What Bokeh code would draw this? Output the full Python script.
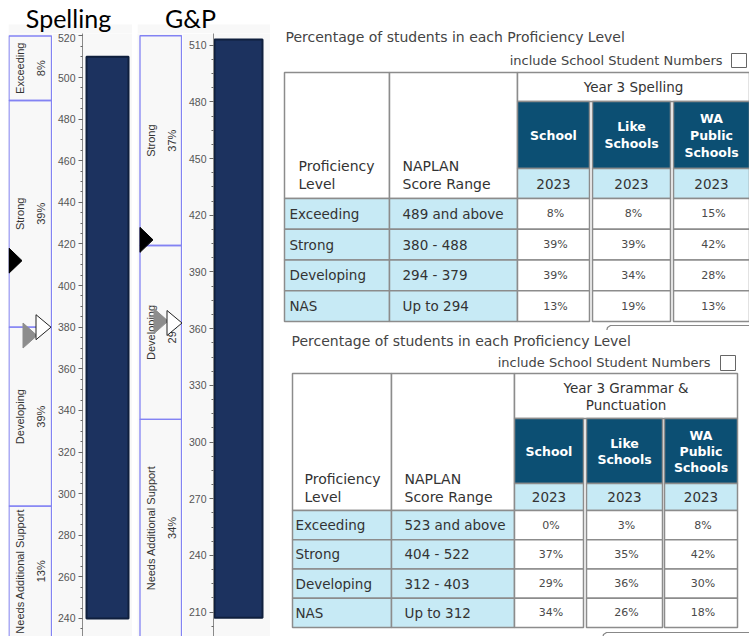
import math
from bokeh.plotting import figure
from bokeh.layouts import row, column
from bokeh.models import Range1d, SingleIntervalTicker, Spacer
from bokeh.core.properties import value
from bokeh.embed import file_html
from bokeh.resources import INLINE

# ---------------- data ----------------
LEVELS = ["Exceeding", "Strong", "Developing", "NAS"]
BAND_NAMES = ["Exceeding", "Strong", "Developing", "Needs Additional Support"]
COLUMNS = ["School", "Like\nSchools", "WA\nPublic\nSchools"]
YEAR = "2023"
TABLE_TITLE = "Percentage of students in each Proficiency Level"
CHECK_LABEL = "include School Student Numbers"
HEAD_LEFT = ["Proficiency\nLevel", "NAPLAN\nScore Range"]

SP_TITLE = "Spelling"
SP_SUBJECT = "Year 3 Spelling"
SP_RANGES = ["489 and above", "380 - 488", "294 - 379", "Up to 294"]
SP_LOWER = [489, 380, 294]          # lower bound of Exceeding, Strong, Developing
SP_SCALE = [220, 520]               # chart scale min / max
SP_SCHOOL = [8, 39, 39, 13]
SP_LIKE = [8, 39, 34, 19]
SP_WA = [15, 42, 28, 13]
SP_MEANS = [412, 376, 380]          # School, Like Schools, WA Public Schools
SP_BAR = [240, 510]
SP_VIEW = [231.3, 521.2]

GP_TITLE = "G&P"
GP_SUBJECT = "Year 3 Grammar &\nPunctuation"
GP_RANGES = ["523 and above", "404 - 522", "312 - 403", "Up to 312"]
GP_LOWER = [523, 404, 312]
GP_SCALE = [180, 515]
GP_SCHOOL = [0, 37, 29, 34]
GP_LIKE = [3, 35, 36, 26]
GP_WA = [8, 42, 30, 18]
GP_MEANS = [407, 364, 363]
GP_BAR = [207, 513]
GP_VIEW = [197.1, 516.2]

# ---------------- style ----------------
PANEL = "#f8f8f8"
BAND_LINE = "#8383f3"
NAVY = "#1c325f"
NAVY_EDGE = "#0f1f3d"
DARK = "#0c4f73"
LIGHT = "#c7eaf5"
BORDER = "#8c8c8c"
TXT = "#333333"
FONT = "DejaVu Sans"
CH = 603   # chart body height
TH = 33    # chart title strip height


def base_fig(w, h, xr, yr, bg="white"):
    p = figure(width=w, height=h, x_range=xr, y_range=yr, output_backend="svg",
               toolbar_location=None, x_axis_location=None, y_axis_location=None,
               min_border=0, outline_line_color=None,
               background_fill_color=bg, border_fill_color=bg)
    p.xgrid.grid_line_color = None
    p.ygrid.grid_line_color = None
    return p


def make_chart(title, title_cx, panel_x0, band_w, bar_w, axis_gap, box, view,
               scale, lower, pcts, means, bar, bar_cx, bar_px, interval):
    yr = Range1d(view[0], view[1])
    ppu = CH / (view[1] - view[0])
    total_w = band_w + bar_w

    # title strip
    tf = base_fig(total_w, TH, Range1d(panel_x0, panel_x0 + total_w), Range1d(TH, 0))
    tf.quad(left=[panel_x0], right=[panel_x0 + total_w], top=[24], bottom=[TH],
            fill_color=PANEL, line_color=None)
    tf.text(x=[title_cx], y=[17], text=[title], text_align="center",
            text_baseline="middle", text_font=value("Lato"),
            text_font_size="25px", text_color="black")

    # band box figure
    bf = base_fig(band_w, CH, Range1d(panel_x0, panel_x0 + band_w), yr, PANEL)
    bl, br = box
    bands = []
    hi = scale[1]
    for name, pct, lo in zip(BAND_NAMES, pcts, lower + [scale[0]]):
        lo = max(lo, scale[0])
        if lo < hi:
            bands.append((name, pct, lo, hi))
        hi = min(hi, lo)
    bf.quad(left=[bl] * len(bands), right=[br] * len(bands),
            top=[b[3] for b in bands], bottom=[b[2] for b in bands],
            fill_color=None, line_color=BAND_LINE, line_width=1.3)
    mids = [(min(b[3], view[1]) + max(b[2], view[0])) / 2 for b in bands]
    bf.text(x=[bl + 10.5] * len(bands), y=mids, text=[b[0] for b in bands],
            angle=math.pi / 2, text_align="center", text_baseline="middle",
            text_font=value("Liberation Sans"), text_font_size="11px", text_color=TXT)
    bf.text(x=[bl + 32] * len(bands), y=mids, text=[f"{b[1]}%" for b in bands],
            angle=math.pi / 2, text_align="center", text_baseline="middle",
            text_font=value("Liberation Sans"), text_font_size="11px", text_color=TXT)
    # mean markers (school, like schools, WA public)
    offs = [(0, 13), (14, 28), (27, 42)]
    fills = ["black", "#8d8d8d", "white"]
    lines = ["black", "#8d8d8d", "#222222"]
    hh = 12.5 / ppu
    for (a, b), v, fc, lc in zip(offs, means, fills, lines):
        bf.patch(x=[bl + a, bl + a, bl + b], y=[v + hh, v - hh, v],
                 fill_color=fc, line_color=lc, line_width=1)

    # bar + axis figure
    pf = figure(width=bar_w, height=CH, x_range=Range1d(0, bar_w - axis_gap), y_range=yr,
                output_backend="svg", toolbar_location=None,
                x_axis_location=None, y_axis_location="left",
                min_border=0, min_border_left=axis_gap, outline_line_color=None,
                background_fill_color=PANEL, border_fill_color=PANEL)
    pf.xgrid.grid_line_color = None
    pf.ygrid.grid_line_color = None
    pf.vbar(x=[bar_cx], width=bar_px, bottom=[bar[0]], top=[bar[1]],
            fill_color=NAVY, line_color=NAVY_EDGE, line_width=2)
    ax = pf.yaxis[0]
    ax.ticker = SingleIntervalTicker(interval=interval, num_minor_ticks=4)
    ax.axis_line_color = "#8a8a8a"
    ax.major_tick_line_color = "#666666"
    ax.minor_tick_line_color = "#666666"
    ax.major_tick_in = 0
    ax.major_tick_out = 4
    ax.minor_tick_in = 0
    ax.minor_tick_out = 2
    ax.major_label_standoff = 3
    ax.major_label_text_font = "Liberation Sans"
    ax.major_label_text_font_size = "10.5px"
    ax.major_label_text_color = "#555555"

    return column(tf, row(bf, pf))


def ctext(p, xs, ys, texts, size, color=TXT, align="center", style="normal"):
    p.text(x=xs, y=ys, text=texts, text_align=align, text_baseline="middle",
           text_font=value(FONT), text_font_size=size, text_color=color,
           text_font_style=style)


def multiline(p, cx, cy, label, lh, size, color, style="normal"):
    parts = label.split("\n")
    n = len(parts)
    ys = [cy + (i - (n - 1) / 2) * lh for i in range(n)]
    ctext(p, [cx] * n, ys, parts, size, color, style=style)


def make_table(g, subject, ranges, school, like, wa):
    fy0, fy1 = g["fig_y"]
    p = base_fig(474, fy1 - fy0, Range1d(275, 749), Range1d(fy1, fy0))
    ctext(p, [g["title"][0]], [g["title"][1]], [TABLE_TITLE], "14px", "#444444", align="left")
    ctext(p, [g["inc"][0]], [g["inc"][1]], [CHECK_LABEL], "13px", "#444444", align="right")
    bx = g["box"]
    p.quad(left=[bx[0]], right=[bx[1]], top=[bx[2]], bottom=[bx[3]],
           fill_color="white", line_color="#666666", line_width=1)

    L = g["left"]
    dcols = g["dcols"]
    top, dark, yrow, data, bottom = g["top"], g["dark"], g["year"], g["data"], g["bottom"]
    n = len(LEVELS)
    rh = (bottom - data) / n
    lefts, rights, tops, bots, fills = [], [], [], [], []

    def cell(l, r, t, b, f):
        lefts.append(l); rights.append(r); tops.append(t); bots.append(b); fills.append(f)

    cell(L[0], L[1], top, data, "white")
    cell(L[1], L[2], top, data, "white")
    cell(dcols[0][0], dcols[-1][1], top, dark, "white")
    for (l, r) in dcols:
        cell(l, r, dark, yrow, DARK)
        cell(l, r, yrow, data, LIGHT)
    for i in range(n):
        t, b = data + i * rh, data + (i + 1) * rh
        cell(L[0], L[1], t, b, LIGHT)
        cell(L[1], L[2], t, b, LIGHT)
        for (l, r) in dcols:
            cell(l, r, t, b, "white")
    p.quad(left=lefts, right=rights, top=tops, bottom=bots, fill_color=fills,
           line_color=BORDER, line_width=1.5)

    # headers
    multiline(p, (dcols[0][0] + dcols[-1][1]) / 2, (top + dark) / 2, subject, 17, "13.5px", TXT)
    for (l, r), lab in zip(dcols, COLUMNS):
        multiline(p, (l + r) / 2, (dark + yrow) / 2, lab, g["lh"], "12.5px", "white", "bold")
        ctext(p, [(l + r) / 2], [(yrow + data) / 2], [YEAR], "13.5px", TXT)
    ycen = (yrow + data) / 2
    for x, lab in zip([g["prof_x"], g["rng_x"]], HEAD_LEFT):
        parts = lab.split("\n")
        ctext(p, [x, x], [ycen - 18, ycen], parts, "14px", TXT, align="left")

    # body
    ys = [data + (i + 0.5) * rh for i in range(n)]
    ctext(p, [g["lvl_x"]] * n, ys, LEVELS, "13.5px", TXT, align="left")
    ctext(p, [g["rng_x"]] * n, ys, ranges, "13.5px", TXT, align="left")
    for (l, r), vals in zip(dcols, [school, like, wa]):
        ctext(p, [(l + r) / 2 + 2] * n, ys, [f"{v}%" for v in vals], "11px", "#4a4a4a")

    dd = g["dropdown"]
    p.line(x=[dd[0], dd[0] + 1, dd[0] + 4, 749], y=[dd[1] + 6, dd[1] + 2, dd[1], dd[1]],
           line_color="#888888", line_width=1.2)
    return p


T1 = dict(fig_y=(0, 330), title=(285, 36), inc=(722, 60), box=(731, 746, 53, 67),
          left=[284, 389, 517], dcols=[(517, 589), (592, 670), (673, 749)],
          top=72, dark=101, year=168, data=198, bottom=321, lh=17,
          prof_x=298, rng_x=402, lvl_x=289, dropdown=(606, 325))
T2 = dict(fig_y=(330, 636), title=(291, 340), inc=(710, 362), box=(720, 735, 355, 370),
          left=[292, 391, 514], dcols=[(514, 583), (586, 662), (664, 737)],
          top=373, dark=418, year=483, data=510, bottom=627, lh=16,
          prof_x=304, rng_x=404, lvl_x=295, dropdown=(602, 632))

sp = make_chart(SP_TITLE, 68, 8, 44, 80, 30, (8.5, 51), SP_VIEW, SP_SCALE, SP_LOWER,
                SP_SCHOOL, SP_MEANS, SP_BAR, 25, 42, 20)
gp = make_chart(GP_TITLE, 190, 137, 45, 88, 31, (139.5, 181), GP_VIEW, GP_SCALE, GP_LOWER,
                GP_SCHOOL, GP_MEANS, GP_BAR, 25, 48, 30)
t1 = make_table(T1, SP_SUBJECT, SP_RANGES, SP_SCHOOL, SP_LIKE, SP_WA)
t2 = make_table(T2, GP_SUBJECT, GP_RANGES, GP_SCHOOL, GP_LIKE, GP_WA)

layout = row(Spacer(width=8, height=636), sp, Spacer(width=5, height=636), gp,
             Spacer(width=5, height=636), column(t1, t2))

open("out.html", "w").write(file_html(layout, INLINE))
